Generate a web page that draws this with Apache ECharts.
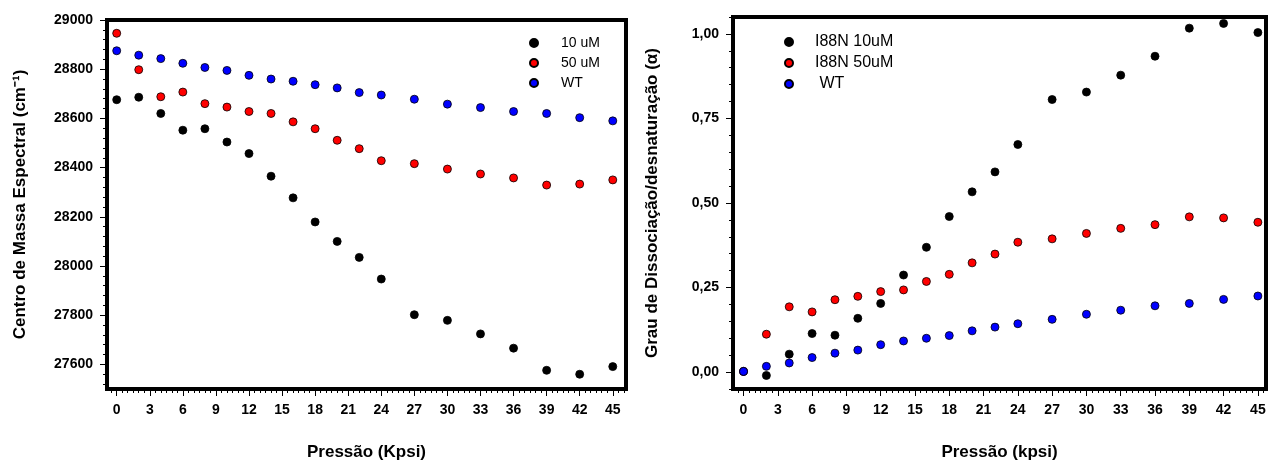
<!DOCTYPE html>
<html><head><meta charset="utf-8">
<script src="https://cdn.jsdelivr.net/npm/echarts@6/dist/echarts.min.js"></script>
<style>html,body{margin:0;padding:0;background:#fff}#c{width:1269px;height:466px}</style>
</head><body><div id="c"></div>
<script>
// ---- data ----
const pressure = [0,2,4,6,8,10,12,14,16,18,20,22,24,27,30,33,36,39,42,45];
const xTickLabels = [0,3,6,9,12,15,18,21,24,27,30,33,36,39,42,45];
const leftYTicks = [27600,27800,28000,28200,28400,28600,28800,29000];
const rightYTicks = [0,0.25,0.5,0.75,1.0];
const leftNames = ['10 uM','50 uM','WT'];
const rightNames = ['I88N 10uM','I88N 50uM',' WT'];
const leftYTitle = 'Centro de Massa Espectral (cm\u207B\u00B9)';
const rightYTitle = 'Grau de Dissociação/desnaturação (α)';
const leftXTitle = 'Pressão (Kpsi)';
const rightXTitle = 'Pressão (kpsi)';

const cm10 = [28676,28686,28620,28552,28558,28504,28457,28365,28277,28179,28100,28035,27947,27802,27779,27724,27666,27576,27560,27591];
const cm50 = [28946,28798,28688,28707,28660,28646,28628,28620,28586,28558,28511,28477,28428,28416,28394,28374,28358,28329,28333,28350];
const cmWT = [28875,28857,28843,28824,28807,28795,28775,28760,28751,28737,28724,28705,28695,28678,28658,28644,28628,28620,28603,28590];

const alpha10 = [0.002,-0.010,0.053,0.114,0.109,0.159,0.203,0.287,0.369,0.460,0.533,0.592,0.673,0.806,0.828,0.878,0.934,1.017,1.031,1.004];
const alpha50 = [0.002,0.112,0.193,0.178,0.214,0.224,0.238,0.243,0.268,0.289,0.323,0.349,0.384,0.394,0.410,0.425,0.436,0.459,0.456,0.443];
const alphaWT = [0.002,0.017,0.027,0.043,0.056,0.065,0.081,0.092,0.100,0.108,0.122,0.133,0.143,0.156,0.171,0.183,0.196,0.203,0.215,0.225];

const colors = ['#000000','#ff0000','#0000ff'];
// ---- layout ----
const FF = '"Liberation Sans", Arial, sans-serif';
function steps(a, b, s){ const r=[]; for(let v=a; v<=b+1e-9; v+=s) r.push(Math.round(v*1000)/1000); return r; }
const xMinor = steps(-0.5, 46, 0.5);
const leftYMinor = steps(27520, 28960, 40);
const rightYMinor = steps(-0.05, 1.05, 0.05);

const L = {xmin:-0.88, xmax:46.2, ymin:27500, ymax:29000};
const R = {xmin:-0.92, xmax:45.71, ymin:-0.05, ymax:1.05};

function pair(v){ return pressure.map((p,i)=>[p,v[i]]); }
const labelStyle = {fontSize:14, fontWeight:'bold', color:'#000', fontFamily:FF};
const nameStyle = {fontSize:17, fontWeight:'bold', color:'#000', fontFamily:FF};

function majorAxis(grid, min, max, ticks, pos, extra, fmt){
  return Object.assign({
    gridIndex:grid, type:'value', min:min, max:max, position:pos,
    axisLine:{show:false, onZero:false}, splitLine:{show:false},
    axisTick:{show:true, customValues:ticks, length:7, lineStyle:{color:'#000',width:1}},
    axisLabel:Object.assign({customValues:ticks, margin:14, formatter:fmt || (v=>String(v))}, labelStyle),
    nameLocation:'middle', nameTextStyle:nameStyle
  }, extra||{});
}
function minorAxis(grid, min, max, ticks, pos){
  return {gridIndex:grid, type:'value', min:min, max:max, position:pos,
    axisLine:{show:false, onZero:false}, splitLine:{show:false},
    axisTick:{show:true, customValues:ticks, length:4, lineStyle:{color:'#000',width:1}},
    axisLabel:{show:false}};
}
function scatter(name, data, xi, yi, ci){
  return {type:'scatter', name:name, data:data, xAxisIndex:xi, yAxisIndex:yi,
    symbol:'circle', symbolSize:8,
    itemStyle:{color:colors[ci], opacity:1, borderColor:'#000', borderWidth:0.8}};
}

const option = {
  animation:false,
  backgroundColor:'#fff',
  grid:[
    {left:107, top:20, width:519, height:373, show:true, borderColor:'#000', borderWidth:4, backgroundColor:'transparent'},
    {left:733, top:17, width:533, height:376, show:true, borderColor:'#000', borderWidth:4, backgroundColor:'transparent'}
  ],
  xAxis:[
    majorAxis(0, L.xmin, L.xmax, xTickLabels, 'bottom', {name:leftXTitle, nameGap:55}),
    minorAxis(0, L.xmin, L.xmax, xMinor, 'bottom'),
    majorAxis(1, R.xmin, R.xmax, xTickLabels, 'bottom', {name:rightXTitle, nameGap:55}),
    minorAxis(1, R.xmin, R.xmax, xMinor, 'bottom')
  ],
  yAxis:[
    majorAxis(0, L.ymin, L.ymax, leftYTicks, 'left', {name:leftYTitle, nameGap:78}),
    minorAxis(0, L.ymin, L.ymax, leftYMinor, 'left'),
    majorAxis(1, R.ymin, R.ymax, rightYTicks, 'left', {name:rightYTitle, nameGap:72},
      v=>v.toFixed(2).replace('.',',')),
    minorAxis(1, R.ymin, R.ymax, rightYMinor, 'left')
  ],
  legend:[
    {data:leftNames, orient:'vertical', left:524, top:31, itemWidth:44, itemHeight:8, itemGap:6,
     textStyle:{fontSize:14, lineHeight:14, color:'#000', fontFamily:FF}},
    {data:rightNames, orient:'vertical', left:779, top:29, itemWidth:42, itemHeight:8, itemGap:5,
     textStyle:{fontSize:16, lineHeight:16, color:'#000', fontFamily:FF}}
  ],
  series:[
    scatter(leftNames[0], pair(cm10), 0, 0, 0),
    scatter(leftNames[1], pair(cm50), 0, 0, 1),
    scatter(leftNames[2], pair(cmWT), 0, 0, 2),
    scatter(rightNames[0], pair(alpha10), 2, 2, 0),
    scatter(rightNames[1], pair(alpha50), 2, 2, 1),
    scatter(rightNames[2], pair(alphaWT), 2, 2, 2)
  ]
};
const chart = echarts.init(document.getElementById('c'), null, {renderer:'canvas'});
chart.setOption(option);
</script></body></html>
